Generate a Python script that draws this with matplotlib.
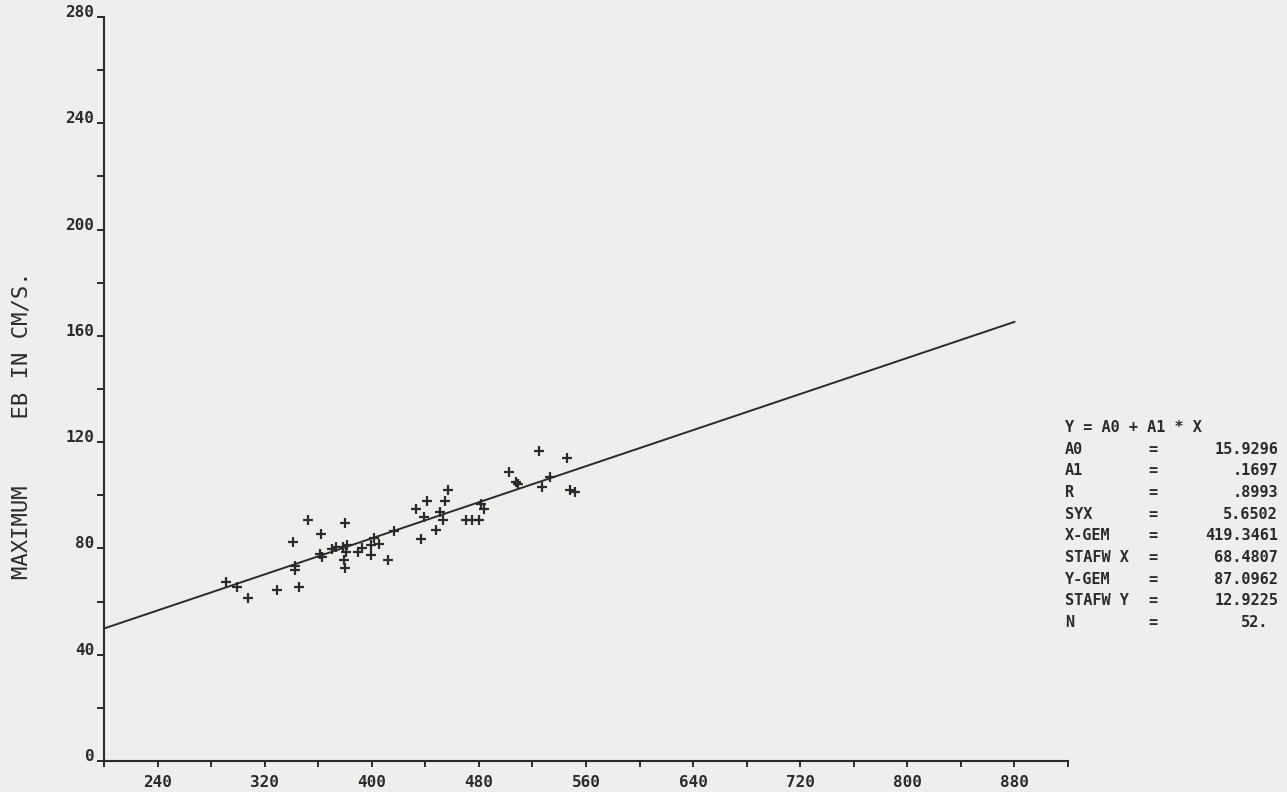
import numpy as np
import matplotlib.pyplot as plt
from matplotlib.ticker import MultipleLocator

# measured points (flow value vs maximum EB in cm/s)
x_vals = [291, 299, 307.5, 329.5, 346, 342.5, 342.5, 341.5, 352.5, 362.3,
          361, 363, 370, 373, 378.5, 381.8, 380, 380.5, 379.3, 380,
          390, 392.5, 399.5, 399.3, 401.5, 405.3, 412, 416.5, 433, 441.3,
          438.8, 436.8, 448, 451, 453.5, 454.8, 457.3, 470.6, 475, 479.8,
          481.8, 484, 502.8, 508, 509.5, 524.8, 526.8, 532.8, 545.5, 547.8,
          551.8]
y_vals = [67.5, 65.4, 61.5, 64.5, 65.6, 73.4, 72.0, 82.5, 90.6, 85.5,
          77.8, 76.8, 79.8, 80.6, 80.7, 81.3, 89.7, 78.6, 75.6, 72.5,
          78.8, 80.2, 81.3, 77.5, 83.8, 81.5, 75.6, 86.6, 94.7, 97.8,
          91.8, 83.6, 86.8, 93.8, 90.8, 97.8, 101.9, 90.7, 90.7, 90.7,
          96.8, 94.8, 108.9, 105.1, 104.3, 116.8, 103, 106.9, 113.9, 102,
          101.1]

A0 = 15.9296
A1 = 0.1697
fit_range = [200, 880]

stat_names = ["A0", "A1", "R", "SYX", "X-GEM", "STAFW X", "Y-GEM", "STAFW Y", "N"]
stat_values = ["15.9296", ".1697", ".8993", "5.6502", "419.3461",
               "68.4807", "87.0962", "12.9225", "52."]

ink = "#2b2b2b"
paper = "#eeeeec"
plt.rcParams['font.family'] = ['DejaVu Sans Mono']

fig = plt.figure(figsize=(12.87, 7.92), dpi=100, facecolor=paper)
ax = fig.add_axes([104 / 1287, 1 - 761 / 792, (1068 - 104) / 1287, (761 - 17) / 792])
ax.set_facecolor(paper)

# scatter of measurements
ax.plot(x_vals, y_vals, linestyle='none', marker='+', markersize=7.5,
        markeredgewidth=1.6, color=ink)

# regression line
xf = np.array(fit_range)
ax.plot(xf, A0 + A1 * xf, color=ink, linewidth=1.4)

ax.set_xlim(200, 920)
ax.set_ylim(0, 280)
for s in ['top', 'right']:
    ax.spines[s].set_visible(False)
for s in ['left', 'bottom']:
    ax.spines[s].set_linewidth(1.5)
    ax.spines[s].set_color(ink)

xt = np.arange(200, 921, 40)
ax.set_xticks(xt)
ax.set_xticklabels([str(v) if (v - 240) % 80 == 0 else "" for v in xt])
yt = np.arange(0, 281, 20)
ax.set_yticks(yt)
ax.set_yticklabels([str(v) if v % 40 == 0 else "" for v in yt])

ax.tick_params(axis='x', direction='out', length=4, width=1.4, color=ink,
               labelsize=11.5, labelcolor=ink, pad=6)
ax.tick_params(axis='y', direction='out', length=5, width=1.4, color=ink,
               labelsize=11.5, labelcolor=ink, pad=2)
for lab in ax.get_yticklabels() + ax.get_xticklabels():
    lab.set_fontweight('bold')
for lab in ax.get_yticklabels():
    lab.set_verticalalignment('baseline')

fig.text(22 / 1287, 1 - 425 / 792, "MAXIMUM     EB IN CM/S.", rotation=90,
         ha='center', va='center', fontsize=16, color=ink)

# statistics block
fig.text(1065 / 1287, 1 - 427 / 792, "Y = A0 + A1 * X", ha='left', va='center',
         fontsize=11, color=ink, fontweight='bold')
for i, (nm, val) in enumerate(zip(stat_names, stat_values)):
    yy = 1 - (449 + i * 21.7) / 792
    fig.text(1065 / 1287, yy, nm, ha='left', va='center', fontsize=11,
             color=ink, fontweight='bold')
    fig.text(1153 / 1287, yy, "=", ha='center', va='center', fontsize=11,
             color=ink, fontweight='bold')
    if nm == "N":
        fig.text(1241 / 1287, yy, val, ha='left', va='center', fontsize=11,
                 color=ink, fontweight='bold')
    else:
        fig.text(1278 / 1287, yy, val, ha='right', va='center', fontsize=11,
                 color=ink, fontweight='bold')

plt.savefig('out.png', dpi=100, facecolor=paper)
